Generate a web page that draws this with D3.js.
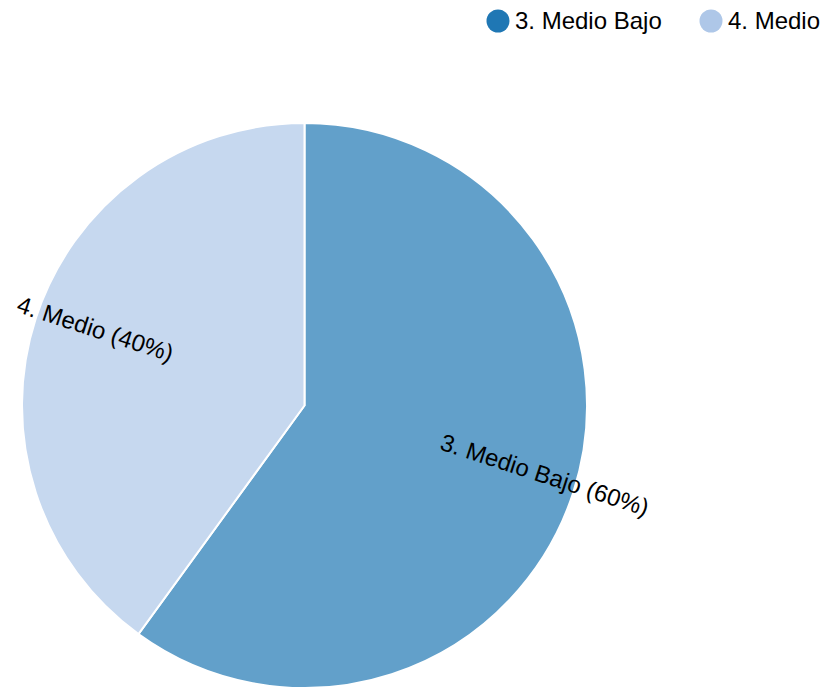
<!DOCTYPE html>
<html><head><meta charset="utf-8">
<script src="https://cdn.jsdelivr.net/npm/d3@7"></script>
<style>body{margin:0;background:#fff}svg{display:block;font-family:"Liberation Sans",Arial,sans-serif}</style>
</head><body>
<svg id="c" width="829" height="688"></svg>
<script>
const categories = ["3. Medio Bajo", "4. Medio"];
const values = [60, 40];
const colors = ["#1f77b4", "#aec7e8"];

const svg = d3.select("#c");
const cx = 304.5, cy = 405.5, R = 282.5;
const total = d3.sum(values);
const data = categories.map((c, i) => ({ label: c, value: values[i], color: colors[i] }));
const pie = d3.pie().sort(null).value(d => d.value);
const arcs = pie(data);
const arc = d3.arc().innerRadius(0).outerRadius(R);
const labelArc = d3.arc().innerRadius(0).outerRadius(R);

const g = svg.append("g").attr("transform", `translate(${cx},${cy})`);
g.selectAll("path").data(arcs).join("path")
  .attr("d", arc)
  .attr("fill", d => d.data.color)
  .attr("fill-opacity", 0.7)
  .attr("stroke", "#fff")
  .attr("stroke-width", 2);

g.selectAll("text.lbl").data(arcs).join("text")
  .attr("class", "lbl")
  .attr("transform", d => {
    const [x, y] = labelArc.centroid(d);
    let rot = (d.startAngle + d.endAngle) / 2 * 180 / Math.PI - 90;
    if (rot > 90) rot -= 180;
    return `translate(${x},${y}) rotate(${rot})`;
  })
  .attr("text-anchor", d => (d.startAngle + d.endAngle) / 2 < Math.PI ? "start" : "end")
  .attr("font-size", 24)
  .attr("fill", "#000")
  .text(d => `${d.data.label} (${Math.round(d.data.value / total * 100)}%)`);

// legend
const legX = [498, 711];
const leg = svg.append("g");
data.forEach((d, i) => {
  const lg = leg.append("g").attr("transform", `translate(${legX[i]},21)`);
  lg.append("circle").attr("r", 11.5).attr("fill", d.color);
  lg.append("text").attr("x", 17).attr("dy", "0.35em").attr("font-size", 24).attr("fill", "#000").text(d.label);
});
</script>
</body></html>
